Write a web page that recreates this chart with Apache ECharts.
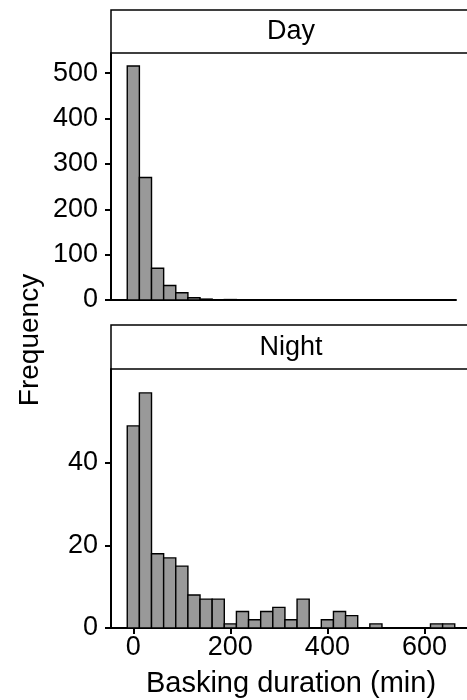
<!DOCTYPE html>
<html><head><meta charset="utf-8">
<script src="https://cdn.jsdelivr.net/npm/echarts@6/dist/echarts.min.js"></script>
<style>html,body{margin:0;padding:0;background:#fff}#c{width:467px;height:700px}</style>
</head><body><div id="c"></div>
<script>
// ---- data ----
const binCenters = [0,25,50,75,100,125,150,175,200,225,250,275,300,325,350,375,400,425,450,475,500,525,550,575,600,625,650];
const binWidth = 25;
const dayCounts   = [516,270,70,32,16,5,2,0,1,0,0,0,0,0,0,0,0,0,0,0,0,0,0,0,0,0,0];
const nightCounts = [49,57,18,17,15,8,7,7,1,4,2,4,5,2,7,0,2,4,3,0,1,0,0,0,0,1,1];
const panelNames = ['Day','Night'];
const xTicks = [0,200,400,600];
const dayYTicks = [0,100,200,300,400,500];
const nightYTicks = [0,20,40];
const xTitle = 'Basking duration (min)';
const yTitle = 'Frequency';

const FONT = 'Liberation Sans, Arial, sans-serif';
const BAR_FILL = '#999999';

function toData(counts){ return binCenters.map((c,i)=>[c,counts[i]]); }

function renderBar(params, api){
  const c = api.value(0), v = api.value(1);
  if (!v) return {type:'group', children:[]};
  const p0 = api.coord([c - binWidth/2, v]);
  const p1 = api.coord([c + binWidth/2, 0]);
  return {type:'rect',
    shape:{x:p0[0], y:p0[1], width:p1[0]-p0[0], height:p1[1]-p0[1]},
    style:{fill:BAR_FILL, stroke:'#000', lineWidth:1.4}};
}

const axisLineStyle = {show:true, onZero:false, lineStyle:{color:'#000', width:2}};
const labelStyle = {color:'#000', fontSize:27, fontFamily:FONT};

const chart = echarts.init(document.getElementById('c'), null, {renderer:'canvas'});
chart.setOption({
  backgroundColor:'#fff',
  animation:false,
  grid:[
    {left:111, right:11, top:53, bottom:400, outerBoundsMode:'none', containLabel:false},
    {left:111, right:-4, top:369, bottom:72, outerBoundsMode:'none', containLabel:false}
  ],
  xAxis:[
    {gridIndex:0, type:'value', min:-46, max:665,
     axisLine:axisLineStyle, axisTick:{show:false}, axisLabel:{show:false}, splitLine:{show:false}},
    {gridIndex:1, type:'value', min:-46, max:696,
     axisLine:axisLineStyle,
     axisTick:{show:true, length:6, lineStyle:{color:'#000', width:2}, customValues:xTicks},
     axisLabel:Object.assign({margin:6, customValues:xTicks}, labelStyle),
     splitLine:{show:false},
     name:xTitle, nameLocation:'middle', nameGap:41,
     nameTextStyle:{color:'#000', fontSize:29, fontFamily:FONT}}
  ],
  yAxis:[
    {gridIndex:0, type:'value', min:0, max:544.5,
     axisLine:axisLineStyle,
     axisTick:{show:true, length:6, lineStyle:{color:'#000', width:2}, customValues:dayYTicks},
     axisLabel:Object.assign({margin:13, customValues:dayYTicks}, labelStyle),
     splitLine:{show:false}},
    {gridIndex:1, type:'value', min:0, max:62.8,
     axisLine:axisLineStyle,
     axisTick:{show:true, length:6, lineStyle:{color:'#000', width:2}, customValues:nightYTicks},
     axisLabel:Object.assign({margin:13, customValues:nightYTicks}, labelStyle),
     splitLine:{show:false}}
  ],
  series:[
    {type:'custom', xAxisIndex:0, yAxisIndex:0, renderItem:renderBar, data:toData(dayCounts)},
    {type:'custom', xAxisIndex:1, yAxisIndex:1, renderItem:renderBar, data:toData(nightCounts)}
  ],
  graphic:[
    {type:'rect', shape:{x:111, y:10, width:420, height:43}, style:{fill:'#fff', stroke:'#000', lineWidth:1.5}},
    {type:'text', x:291, y:32, style:{text:panelNames[0], fill:'#000', font:'27px '+FONT, textAlign:'center', textVerticalAlign:'middle'}},
    {type:'rect', shape:{x:111, y:325, width:420, height:44}, style:{fill:'#fff', stroke:'#000', lineWidth:1.5}},
    {type:'text', x:291, y:348, style:{text:panelNames[1], fill:'#000', font:'27px '+FONT, textAlign:'center', textVerticalAlign:'middle'}},
    {type:'text', x:30, y:340, rotation:Math.PI/2, style:{text:yTitle, fill:'#000', font:'28px '+FONT, textAlign:'center', textVerticalAlign:'middle'}}
  ]
});
</script></body></html>
